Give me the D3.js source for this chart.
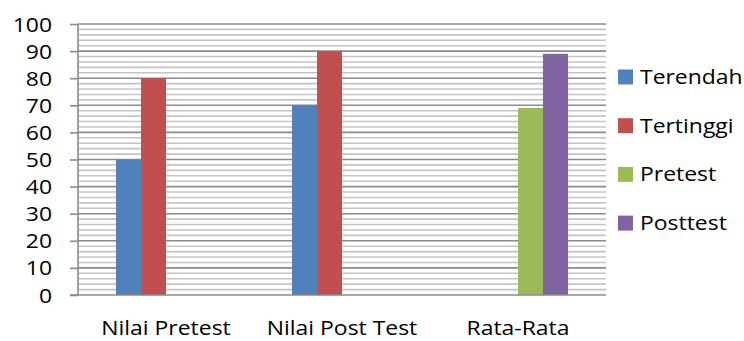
<!DOCTYPE html>
<html>
<head>
<meta charset="utf-8">
<script src="https://cdn.jsdelivr.net/npm/d3@7"></script>
<style>
  html, body { margin: 0; padding: 0; background: #fff; }
  svg text { font-family: "Open Sans", Lato, sans-serif; fill: #000; }
</style>
</head>
<body>
<svg id="chart" width="744" height="341"></svg>
<script>
const categories = ["Nilai Pretest", "Nilai Post Test", "Rata-Rata"];
const seriesNames = ["Terendah", "Tertinggi", "Pretest", "Posttest"];
const terendah = [50, 70, null];
const tertinggi = [80, 90, null];
const pretest = [null, null, 69];
const posttest = [null, null, 89];
const seriesValues = [terendah, tertinggi, pretest, posttest];
const colors = ["#4F81BD", "#C0504D", "#9BBB59", "#8064A2"];
const yTicks = [0, 10, 20, 30, 40, 50, 60, 70, 80, 90, 100];
const yMinorTicks = d3.range(0, 101, 2);

const svg = d3.select("#chart");
const plot = { left: 78, right: 606, top: 24, bottom: 295 };
const fontPx = "19.6px";
const stretch = 1.17; // the reference text is horizontally stretched

function widen(sel) {
  sel.each(function () {
    const w = this.getComputedTextLength();
    d3.select(this).attr("textLength", w * stretch).attr("lengthAdjust", "spacingAndGlyphs");
  });
}

const y = d3.scaleLinear().domain([0, 100]).range([plot.bottom, plot.top]);
const x0 = d3.scaleBand().domain(categories).range([plot.left, plot.right]).padding(0);
const bw = x0.bandwidth();
const x1 = d3.scaleBand().domain(seriesNames).range([bw * 0.216, bw * 0.784]).padding(0);
const color = d3.scaleOrdinal().domain(seriesNames).range(colors);

// minor gridlines
svg.append("g").selectAll("line")
  .data(yMinorTicks.filter(v => v % 10 !== 0))
  .join("line")
  .attr("x1", plot.left).attr("x2", plot.right)
  .attr("y1", d => y(d)).attr("y2", d => y(d))
  .attr("stroke", "#c4c4c4").attr("stroke-width", 1.6);

// major gridlines
svg.append("g").selectAll("line")
  .data(yTicks.filter(v => v > 0))
  .join("line")
  .attr("x1", plot.left).attr("x2", plot.right)
  .attr("y1", d => y(d)).attr("y2", d => y(d))
  .attr("stroke", "#8a8a8a").attr("stroke-width", 1.6);

// bars
const rows = categories.map((c, i) => ({ cat: c, vals: seriesNames.map((s, j) => ({ s, v: seriesValues[j][i] })) }));
svg.append("g").selectAll("g")
  .data(rows)
  .join("g")
  .attr("transform", d => `translate(${x0(d.cat)},0)`)
  .selectAll("rect")
  .data(d => d.vals.filter(e => e.v != null))
  .join("rect")
  .attr("x", d => x1(d.s))
  .attr("width", x1.bandwidth())
  .attr("y", d => y(d.v))
  .attr("height", d => y(0) - y(d.v))
  .attr("fill", d => color(d.s));

// y axis
const yAxis = d3.axisLeft(y).tickValues(yTicks).tickSize(8).tickPadding(18).tickFormat(d3.format("d"));
const gy = svg.append("g").attr("transform", `translate(${plot.left},0)`).call(yAxis);
gy.select(".domain").attr("stroke", "#8a8a8a").attr("stroke-width", 1.6).attr("d", `M0,${plot.top}V${plot.bottom}`);
gy.selectAll(".tick line").attr("stroke", "#8a8a8a").attr("stroke-width", 1.6);
gy.selectAll(".tick text").style("font-size", fontPx).attr("dy", "0.36em").call(widen);

// x axis
const xAxis = d3.axisBottom(x0).tickSize(0).tickPadding(26);
const gx = svg.append("g").attr("transform", `translate(0,${plot.bottom})`).call(xAxis);
gx.select(".domain").attr("stroke", "#8a8a8a").attr("stroke-width", 1.6).attr("d", `M${plot.left - 8},0H${plot.right}`);
gx.selectAll(".tick text").style("font-size", fontPx).call(widen);

// legend
const legend = svg.append("g").selectAll("g")
  .data(seriesNames)
  .join("g")
  .attr("transform", (d, i) => `translate(618,${77 + i * 48.7})`);
legend.append("rect").attr("x", 0).attr("y", -7.5).attr("width", 15).attr("height", 15).attr("fill", d => color(d));
legend.append("text").attr("x", 22).attr("dy", "0.36em").style("font-size", fontPx).text(d => d).call(widen);
</script>
</body>
</html>
